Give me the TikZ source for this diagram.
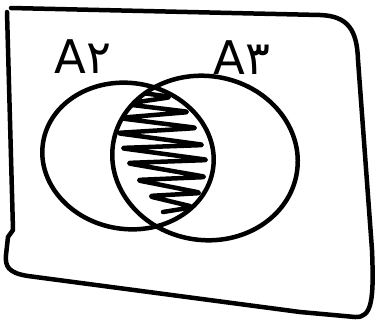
\documentclass[tikz,border=0pt]{standalone}
\usepackage{fontspec}
\newfontfamily\arabicfont[Script=Arabic]{DejaVu Sans}
\tikzset{
  pen/.style={line width=3.2pt, line cap=round, line join=round},
  lbl/.style={font=\arabicfont\fontsize{33}{36}\selectfont, inner sep=0pt}}

\begin{document}
\begin{tikzpicture}[x=0.025cm, y=0.025cm]
\useasboundingbox (0,0) rectangle (379,-323);
% frame
\draw[pen] (11,-8) -- (320,-15) .. controls (348,-16) and (357,-30) .. (358,-60) -- (372,-250) .. controls (374,-300) and (372,-318) .. (355,-317) -- (300,-312) -- (28,-276) .. controls (8,-273) and (5,-266) .. (6,-255) -- (8,-237) -- (13,-230) -- (7,-12);
% sets
\draw[pen] (128,-156) ellipse [x radius=86, y radius=73, rotate=-9];
\draw[pen] (205,-158) ellipse [x radius=93, y radius=82, rotate=-9];
\begin{scope}
  \clip (128,-156) ellipse [x radius=86, y radius=73, rotate=-9];
  \clip (205,-158) ellipse [x radius=93, y radius=82, rotate=-9];
  \draw[pen, rounded corners=4pt] (135,-92) -- (172,-97) -- (124,-104) -- (190,-112) -- (118,-118) -- (198,-128) -- (116,-133) -- (205,-145) -- (120,-148) -- (209,-160) -- (126,-163) -- (207,-177) -- (136,-180) -- (202,-193) -- (148,-196) -- (194,-207) -- (163,-212);
\end{scope}
\node[lbl] (atwo) at (83,-57) {A۲};
\node[lbl] (athree) at (242,-58) {A۳};
\end{tikzpicture}
\end{document}
